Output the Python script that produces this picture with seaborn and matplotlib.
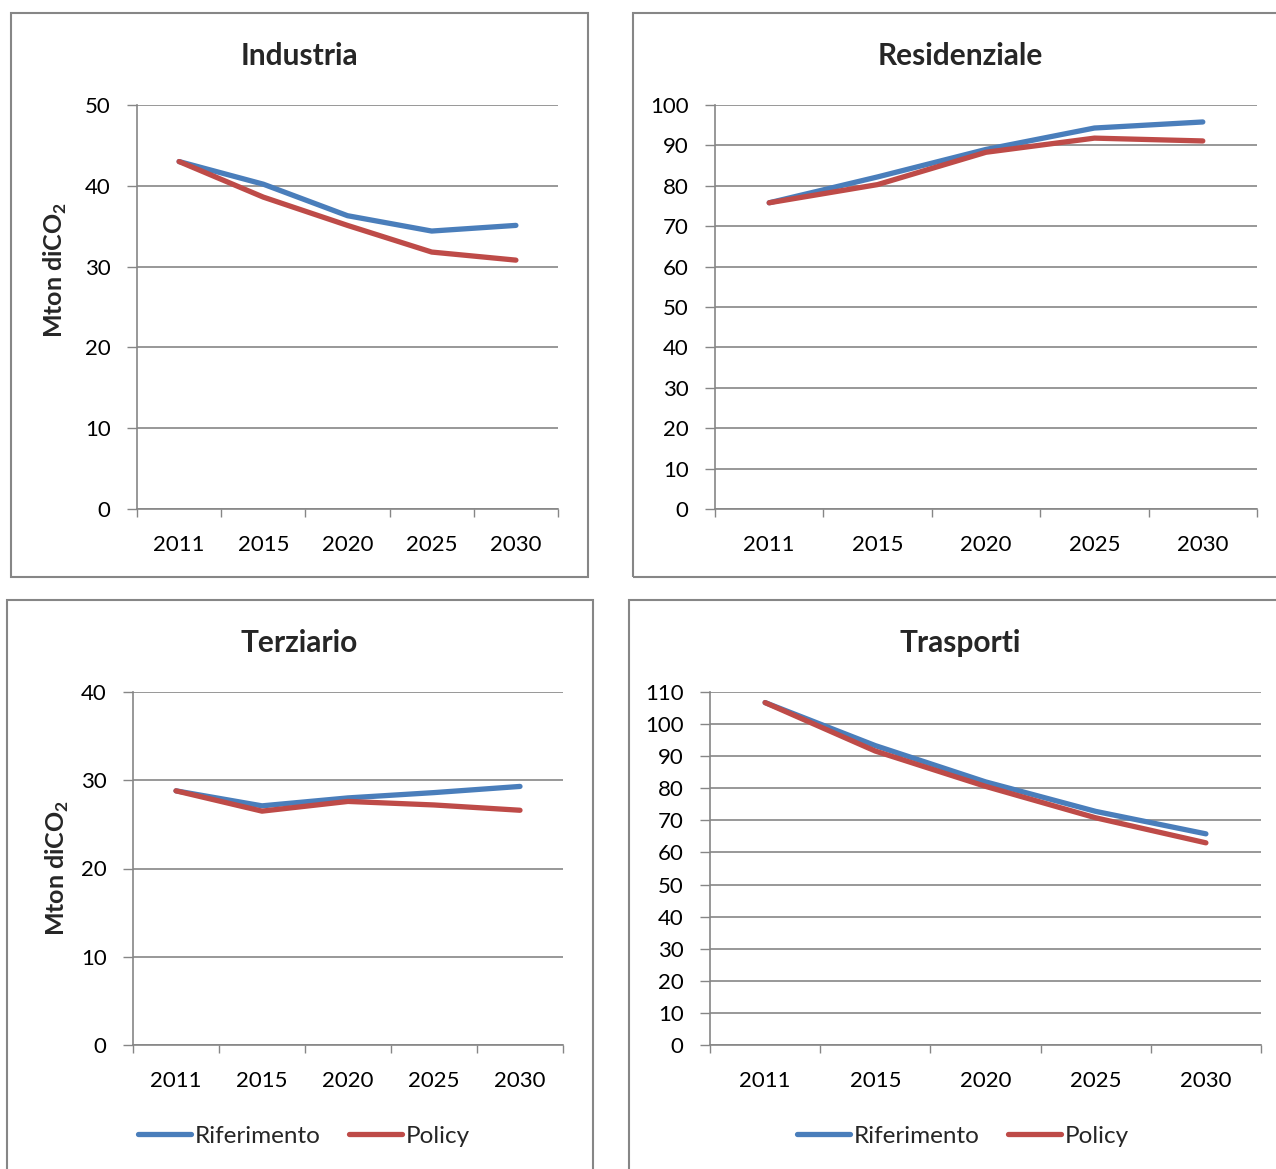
import matplotlib
matplotlib.use("Agg")
import matplotlib.pyplot as plt
import seaborn as sns
import pandas as pd
from matplotlib.patches import Rectangle

years = ["2011", "2015", "2020", "2025", "2030"]
series_names = ["Riferimento", "Policy"]

industria_rif = [43.0, 40.2, 36.3, 34.4, 35.1]
industria_pol = [43.0, 38.6, 35.1, 31.8, 30.8]
residenziale_rif = [75.8, 82.2, 89.0, 94.3, 95.8]
residenziale_pol = [75.8, 80.3, 88.3, 91.8, 91.1]
terziario_rif = [28.8, 27.1, 28.0, 28.6, 29.3]
terziario_pol = [28.8, 26.5, 27.6, 27.2, 26.6]
trasporti_rif = [106.7, 93.3, 82.0, 72.8, 65.8]
trasporti_pol = [106.7, 91.6, 80.6, 70.8, 63.0]

titles = ["Industria", "Residenziale", "Terziario", "Trasporti"]
ylabel = r"Mton diCO$_\mathbf{2}$"

sns.set_theme(style="white")
plt.rcParams["font.family"] = ["Lato", "DejaVu Sans"]
plt.rcParams["mathtext.fontset"] = "custom"
plt.rcParams["mathtext.rm"] = "Lato"
plt.rcParams["mathtext.bf"] = "Lato:bold"

W, H = 1276, 1169
fig = plt.figure(figsize=(W / 100, H / 100), dpi=100)

def fx(x): return x / W
def fy(y): return 1 - y / H

GRAY = "#868686"
palette = {"Riferimento": "#4A7EBB", "Policy": "#BE4B48"}

# panel boxes (pixel coords: left, top, right, bottom)
boxes = [(11, 13, 588, 577), (633, 13, 1290, 577), (7, 600, 593, 1180), (629, 600, 1290, 1180)]
for (l, t, r, b) in boxes:
    fig.patches.append(Rectangle((fx(l), fy(b)), fx(r - l), (b - t) / H,
                                 transform=fig.transFigure, fill=False,
                                 edgecolor=GRAY, linewidth=1.5, zorder=0))

# axes rectangles (pixel: left, top, right, bottom)
axrects = [(137, 105, 558, 509), (715, 105, 1257, 509), (133, 692, 563, 1045), (710, 692, 1261, 1045)]
data = [(industria_rif, industria_pol), (residenziale_rif, residenziale_pol),
        (terziario_rif, terziario_pol), (trasporti_rif, trasporti_pol)]
ylims = [(50, 10), (100, 10), (40, 10), (110, 10)]
title_y = [56, 56, 643, 643]
title_x = [299, 960, 299, 960]

for i, ((l, t, r, b), (rif, pol)) in enumerate(zip(axrects, data)):
    ax = fig.add_axes([fx(l), fy(b), (r - l) / W, (b - t) / H])
    df = pd.DataFrame({
        "Anno": years * 2,
        "Valore": rif + pol,
        "Scenario": [series_names[0]] * len(years) + [series_names[1]] * len(years),
    })
    sns.lineplot(data=df, x="Anno", y="Valore", hue="Scenario", palette=palette,
                 linewidth=3.8, ax=ax, legend=(i >= 2), sort=False)
    for ln in ax.lines:
        ln.set_solid_capstyle("round")
        ln.set_solid_joinstyle("round")
    ymax, step = ylims[i]
    ax.set_ylim(0, ymax)
    ax.set_yticks(range(0, ymax + 1, step))
    ax.set_xlim(-0.5, len(years) - 0.5)
    ax.set_xticks(range(len(years)))
    ax.set_xticklabels(years)
    ax.set_xticks([k - 0.5 for k in range(len(years) + 1)], minor=True)
    ax.tick_params(axis="x", which="major", length=0, pad=19, labelsize=16, colors="black")
    ax.tick_params(axis="x", which="minor", length=6, width=1, color=GRAY, direction="out", bottom=True)
    ax.tick_params(axis="y", length=7, width=1, color=GRAY, direction="out", left=True,
                   pad=12, labelsize=16, labelcolor="black")
    ax.grid(axis="y", color=GRAY, linewidth=1.2)
    ax.set_axisbelow(True)
    for s in ["top", "right"]:
        ax.spines[s].set_visible(False)
    for s in ["left", "bottom"]:
        ax.spines[s].set_color(GRAY)
        ax.spines[s].set_linewidth(1.2)
    ax.set_xlabel("")
    if i % 2 == 0:
        ax.set_ylabel(ylabel, fontsize=18, fontweight="bold")
        if i == 0:
            ax.yaxis.set_label_coords((69 - l) / (r - l), (b - 270) / (b - t))
        else:
            ax.yaxis.set_label_coords((71 - l) / (r - l), (b - 868) / (b - t))
    else:
        ax.set_ylabel("")
    fig.text(fx(title_x[i]), fy(title_y[i]), titles[i], ha="center", va="center",
             fontsize=21.5, fontweight="bold")
    if i >= 2:
        lx = 304 if i == 2 else 963
        ax.legend(title=None, loc="center", bbox_to_anchor=(fx(lx), fy(1136)),
                  bbox_transform=fig.transFigure, ncol=2, frameon=False, fontsize=17.5,
                  handlelength=2.2, handletextpad=0.15, columnspacing=1.15)
        for h in ax.get_legend().get_lines():
            h.set_linewidth(3.8)
            h.set_solid_capstyle("round")

fig.savefig("out.png", dpi=100)
